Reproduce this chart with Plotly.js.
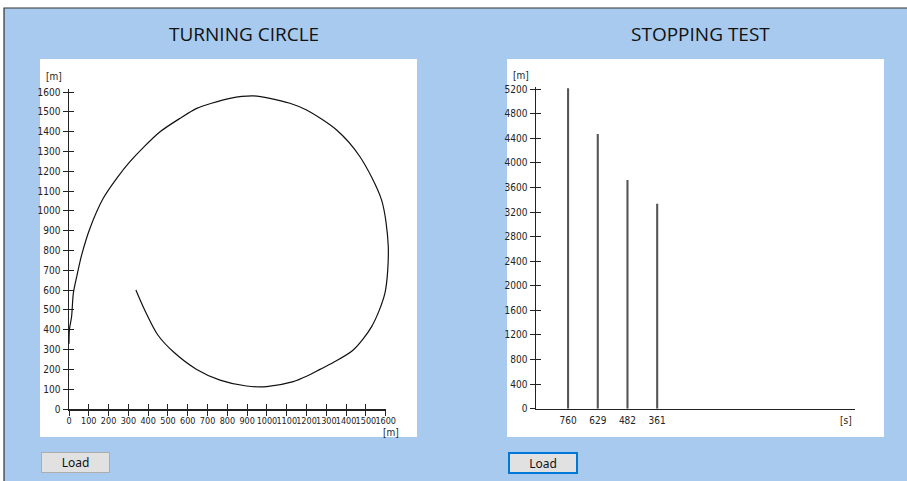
<!DOCTYPE html>
<html>
<head>
<meta charset="utf-8">
<script src="https://cdn.plot.ly/plotly-3.0.1.min.js"></script>
<style>html,body{margin:0;padding:0;background:#fff;}#chart{width:907px;height:481px;}</style>
</head>
<body>
<div id="chart"></div>
<script>
// Turning circle trajectory [m]
const turnX = [0, 2, 13, 22, 39, 64, 106, 173, 241, 308, 375, 460, 561, 645, 720, 813, 931, 1015, 1116, 1200, 1352, 1470, 1579, 1613, 1596, 1529, 1436, 1335, 1268, 1200, 1133, 998, 897, 763, 645, 527, 448, 380, 338];
const turnY = [330, 400, 466, 585, 668, 778, 913, 1064, 1165, 1249, 1320, 1400, 1468, 1518, 1544, 1569, 1581, 1569, 1544, 1510, 1409, 1274, 1056, 820, 585, 416, 298, 235, 200, 165, 138, 113, 116, 146, 200, 289, 375, 505, 601];
// Stopping test: stopping times [s] and distances [m]
const stopTimes = ['760', '629', '482', '361'];
const stopDist = [5216, 4472, 3723, 3337];

const W = 907, H = 481;
const fx = p => p / W;
const fy = p => 1 - p / H;

const tickFont = {family: 'DejaVu Sans Condensed, DejaVu Sans, sans-serif', size: 10, color: '#222'};
const narrowFont = {family: 'Liberation Sans Narrow, DejaVu Sans Condensed, sans-serif', size: 9, color: '#222'};
const axCol = '#222';

// left plot pixel frame and scale
const LX0 = 69, LX1 = 385.7, LYB = 409, LYT = 89.2;
const kx = (LX1 - LX0) / 1600, ky = (LYB - LYT) / 1615;

const traces = [
  {type: 'scatter', x: [], y: [], xaxis: 'x', yaxis: 'y', hoverinfo: 'skip'},
  {type: 'scatter', x: [], y: [], xaxis: 'x3', yaxis: 'y3', hoverinfo: 'skip'},
  {type: 'scatter', mode: 'lines', x: turnX, y: turnY, xaxis: 'x5', yaxis: 'y5',
   line: {color: '#111', width: 1.2, shape: 'spline', smoothing: 0.8}, hoverinfo: 'skip'},
  {type: 'bar', x: stopTimes, y: stopDist, xaxis: 'x2', yaxis: 'y2', width: 0.07,
   marker: {color: '#555', line: {width: 0}}, hoverinfo: 'skip'},
  {type: 'scatter', x: [], y: [], xaxis: 'x4', yaxis: 'y4', hoverinfo: 'skip'}
];

const baseAx = {showgrid: false, zeroline: false, fixedrange: true, tickfont: tickFont,
  showline: true, linecolor: axCol, linewidth: 1.5, ticks: 'outside', ticklen: 5,
  tickcolor: axCol, tickwidth: 1, tickangle: 0};
const overAx = {showgrid: false, zeroline: false, fixedrange: true, showline: false,
  showticklabels: false, ticks: 'inside', ticklen: 5, tickcolor: axCol, tickwidth: 1};

const layout = {
  width: W, height: H,
  margin: {l: 0, r: 0, t: 0, b: 0, pad: 0},
  paper_bgcolor: '#ffffff', plot_bgcolor: 'rgba(0,0,0,0)',
  showlegend: false,
  xaxis: Object.assign({}, baseAx, {domain: [fx(LX0), fx(LX1)], range: [0, 1600], anchor: 'y', tick0: 0, dtick: 100,
    tickfont: narrowFont, ticklabelstandoff: -2}),
  yaxis: Object.assign({}, baseAx, {domain: [fy(LYB), fy(LYT)], range: [0, 1615], anchor: 'x', tick0: 0, dtick: 100}),
  xaxis3: Object.assign({}, overAx, {overlaying: 'x', anchor: 'y3', range: [0, 1600], tick0: 0, dtick: 100}),
  yaxis3: Object.assign({}, overAx, {overlaying: 'y', anchor: 'x3', range: [0, 1615], tick0: 0, dtick: 100}),
  // same scale as the left axes, a little wider so the curve is not clipped at the axis ends
  xaxis5: {domain: [fx(LX0 - 50 * kx), fx(LX1 + 50 * kx)], range: [-50, 1650], anchor: 'y5', visible: false, fixedrange: true},
  yaxis5: {domain: [fy(LYB + 50 * ky), fy(LYT - 50 * ky)], range: [-50, 1665], anchor: 'x5', visible: false, fixedrange: true},
  xaxis2: Object.assign({}, baseAx, {domain: [fx(536), fx(855)], type: 'category', range: [-1.08, 9.66], anchor: 'y2',
    tickcolor: 'rgba(0,0,0,0)', ticklabelstandoff: -3}),
  yaxis2: Object.assign({}, baseAx, {domain: [fy(408.7), fy(86.8)], range: [0, 5240], anchor: 'x2', tick0: 0, dtick: 400}),
  xaxis4: Object.assign({}, overAx, {overlaying: 'x2', anchor: 'y4', range: [0, 1], ticks: ''}),
  yaxis4: Object.assign({}, overAx, {overlaying: 'y2', anchor: 'x4', range: [0, 5240], tick0: 0, dtick: 400}),
  shapes: [
    {type: 'rect', xref: 'paper', yref: 'paper', x0: fx(4), y0: fy(8), x1: fx(912), y1: fy(486),
     fillcolor: '#a7caee', line: {color: '#333', width: 1.2}, layer: 'below'},
    {type: 'rect', xref: 'paper', yref: 'paper', x0: fx(40), y0: fy(59), x1: fx(417), y1: fy(437),
     fillcolor: '#ffffff', line: {width: 0}, layer: 'below'},
    {type: 'rect', xref: 'paper', yref: 'paper', x0: fx(507), y0: fy(59), x1: fx(884), y1: fy(437),
     fillcolor: '#ffffff', line: {width: 0}, layer: 'below'}
  ],
  annotations: [
    {text: 'TURNING CIRCLE', x: fx(244), y: fy(34), xref: 'paper', yref: 'paper', showarrow: false,
     xanchor: 'center', yanchor: 'middle', font: {family: 'Open Sans, sans-serif', size: 19, color: '#111'}},
    {text: 'STOPPING TEST', x: fx(700), y: fy(34), xref: 'paper', yref: 'paper', showarrow: false,
     xanchor: 'center', yanchor: 'middle', font: {family: 'Open Sans, sans-serif', size: 19, color: '#111'}},
    {text: '[m]', x: fx(53.7), y: fy(76), xref: 'paper', yref: 'paper', showarrow: false, xanchor: 'center', yanchor: 'middle', font: tickFont},
    {text: '[m]', x: fx(391), y: fy(432), xref: 'paper', yref: 'paper', showarrow: false, xanchor: 'center', yanchor: 'middle', font: tickFont},
    {text: '[m]', x: fx(520.7), y: fy(75.7), xref: 'paper', yref: 'paper', showarrow: false, xanchor: 'center', yanchor: 'middle', font: tickFont},
    {text: '[s]', x: fx(845.7), y: fy(420), xref: 'paper', yref: 'paper', showarrow: false, xanchor: 'center', yanchor: 'middle', font: tickFont},
    {text: 'Load', x: fx(75.5), y: fy(462.5), xref: 'paper', yref: 'paper', showarrow: false, xanchor: 'center', yanchor: 'middle',
     width: 67, height: 19, bgcolor: '#e1e1e1', bordercolor: '#adadad', borderwidth: 1, borderpad: 0,
     font: {family: 'Noto Sans, sans-serif', size: 12, color: '#111'}},
    {text: 'Load', x: fx(542.5), y: fy(462.5), xref: 'paper', yref: 'paper', showarrow: false, xanchor: 'center', yanchor: 'middle',
     width: 66, height: 18, bgcolor: '#e1e1e1', bordercolor: '#0078d7', borderwidth: 2, borderpad: 0,
     font: {family: 'Noto Sans, sans-serif', size: 12, color: '#111'}}
  ]
};

Plotly.newPlot('chart', traces, layout, {staticPlot: true, displayModeBar: false});
</script>
</body>
</html>
